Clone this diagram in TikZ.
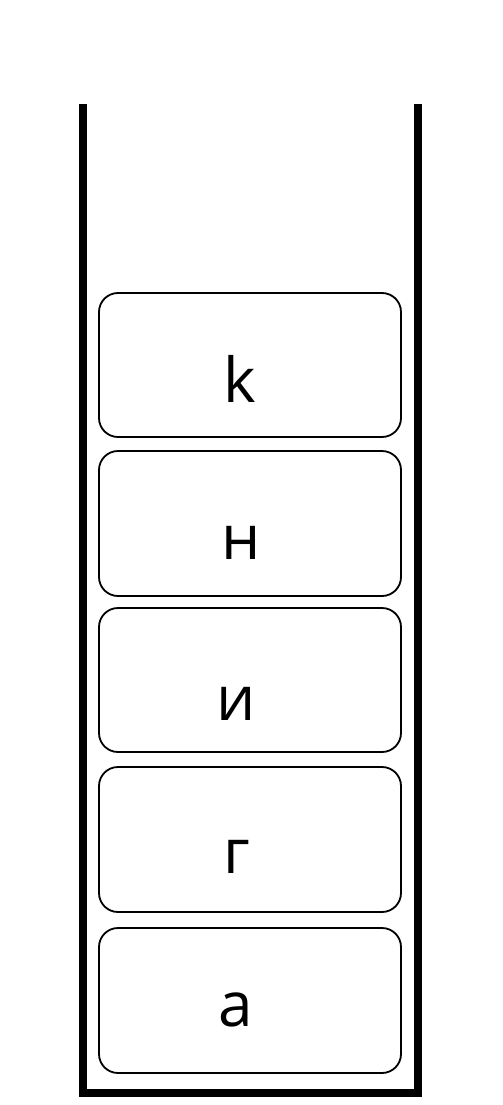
\documentclass[tikz,border=0pt]{standalone}
\usepackage{fontspec}
\setmainfont{Open Sans}
\begin{document}
\begin{tikzpicture}[x=1pt,y=-1pt]
\tikzset{
  slot/.style={draw=black, line width=1.8pt, rounded corners=19pt, minimum width=302pt, inner sep=0pt, fill=white},
  letter/.style={anchor=base, inner sep=0pt, font=\fontsize{62}{62}\selectfont},
  wall/.style={line width=8pt, line join=miter, line cap=butt}
}
\useasboundingbox[fill=white] (0,0) rectangle (503,1105);
\coordinate (tl) at (83,104);
\coordinate (bl) at (83,1093);
\coordinate (br) at (418,1093);
\coordinate (tr) at (418,104);
\draw[wall] (tl) -- (bl) -- (br) -- (tr);
\node[slot, minimum height=144pt] (b1) at (250,365) {};
\node[slot, minimum height=145pt] (b2) at (250,523.5) {};
\node[slot, minimum height=144pt] (b3) at (250,680) {};
\node[slot, minimum height=145pt] (b4) at (250,839.5) {};
\node[slot, minimum height=145pt] (b5) at (250,1000.5) {};
\node[letter] (l1) at (240,402) {k};
\node[letter] (l2) at (241,559) {н};
\node[letter] (l3) at (236,720) {и};
\node[letter] (l4) at (237,873) {г};
\node[letter] (l5) at (236,1026) {а};
\end{tikzpicture}
\end{document}
